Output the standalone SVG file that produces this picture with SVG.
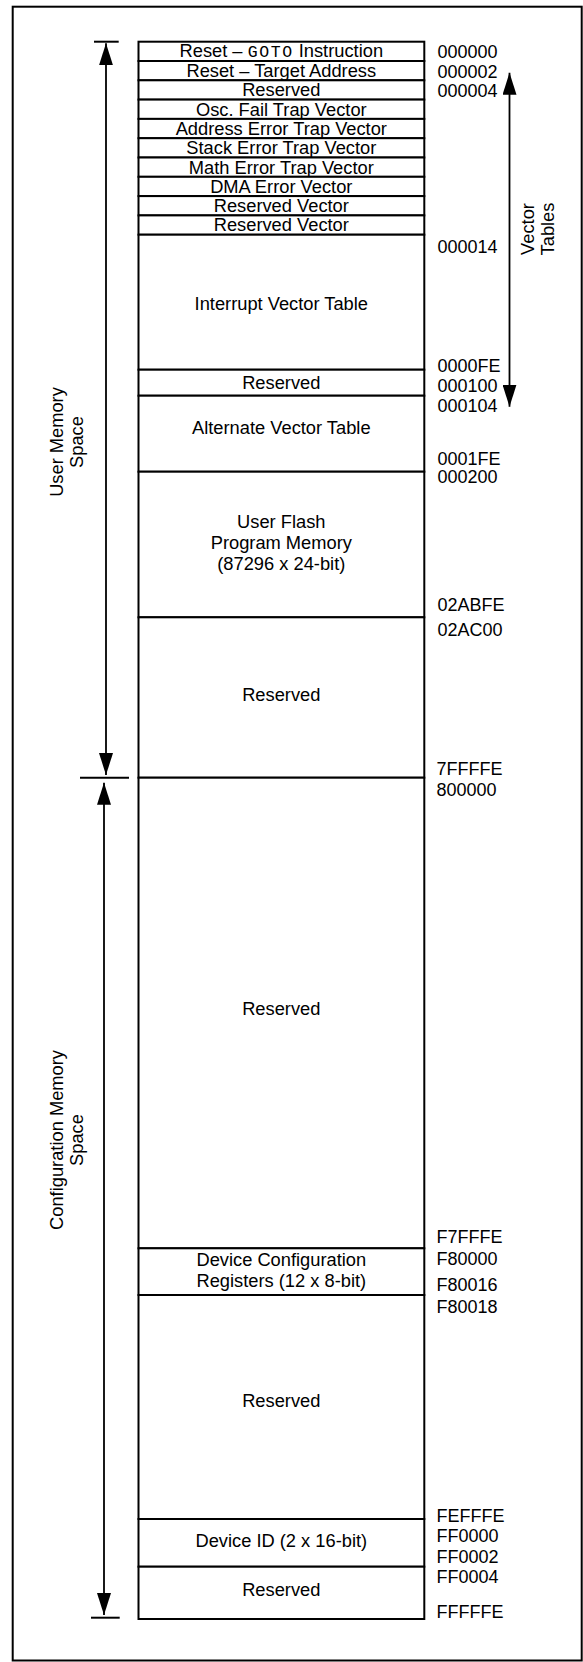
<svg xmlns="http://www.w3.org/2000/svg" width="583" height="1662" viewBox="0 0 583 1662">
<style>
text{font-family:"Liberation Sans",Arial,Helvetica,sans-serif;font-size:18px;fill:#000}
.c{text-anchor:middle;font-size:18.3px}
.a{text-anchor:start}
.box{fill:#fff;stroke:#000;stroke-width:2}
.ln{stroke:#000;stroke-width:2;fill:none}
.arr{stroke:#000;stroke-width:1.8;fill:none;marker-start:url(#ah);marker-end:url(#ah)}
.mono{font-family:"Liberation Mono","Courier New",monospace;font-size:16.5px;letter-spacing:1.6px}
</style>
<defs>
<marker id="ah" markerUnits="userSpaceOnUse" markerWidth="22" markerHeight="14" refX="22" refY="7" orient="auto-start-reverse" viewBox="0 0 22 14">
<path d="M0,0 L22,7 L0,14 z" fill="#000"/>
</marker>
</defs>
<rect x="0" y="0" width="583" height="1662" fill="#fff"/>
<rect id="frame" x="12.7" y="6.7" width="569" height="1653.8" fill="none" stroke="#000" stroke-width="2"/>

<g id="memory-map">
<g id="r1"><rect class="box" x="138.5" y="41.7" width="285.8" height="19.3"/><text class="c" x="281.3" y="57">Reset – <tspan class="mono">GOTO</tspan> Instruction</text></g>
<g id="r2"><rect class="box" x="138.5" y="61" width="285.8" height="19.3"/><text class="c" x="281.3" y="77">Reset – Target Address</text></g>
<g id="r3"><rect class="box" x="138.5" y="80.3" width="285.8" height="19.3"/><text class="c" x="281.3" y="96.3">Reserved</text></g>
<g id="r4"><rect class="box" x="138.5" y="99.6" width="285.8" height="19.3"/><text class="c" x="281.3" y="115.6">Osc. Fail Trap Vector</text></g>
<g id="r5"><rect class="box" x="138.5" y="118.9" width="285.8" height="19.3"/><text class="c" x="281.3" y="134.9">Address Error Trap Vector</text></g>
<g id="r6"><rect class="box" x="138.5" y="138.2" width="285.8" height="19.3"/><text class="c" x="281.3" y="154.2">Stack Error Trap Vector</text></g>
<g id="r7"><rect class="box" x="138.5" y="157.5" width="285.8" height="19.3"/><text class="c" x="281.3" y="173.5">Math Error Trap Vector</text></g>
<g id="r8"><rect class="box" x="138.5" y="176.8" width="285.8" height="19.3"/><text class="c" x="281.3" y="192.8">DMA Error Vector</text></g>
<g id="r9"><rect class="box" x="138.5" y="196.1" width="285.8" height="19.3"/><text class="c" x="281.3" y="212.1">Reserved Vector</text></g>
<g id="r10"><rect class="box" x="138.5" y="215.4" width="285.8" height="19.3"/><text class="c" x="281.3" y="231.4">Reserved Vector</text></g>
<g id="ivt"><rect class="box" x="138.5" y="234.7" width="285.8" height="135"/><text class="c" x="281.3" y="310">Interrupt Vector Table</text></g>
<g id="res1"><rect class="box" x="138.5" y="369.7" width="285.8" height="26"/><text class="c" x="281.3" y="388.5">Reserved</text></g>
<g id="avt"><rect class="box" x="138.5" y="395.7" width="285.8" height="76"/><text class="c" x="281.3" y="434.3">Alternate Vector Table</text></g>
<g id="flash"><rect class="box" x="138.5" y="471.7" width="285.8" height="145.6"/><text class="c" x="281.3" y="528.3">User Flash</text><text class="c" x="281.3" y="549.3">Program Memory</text><text class="c" x="281.3" y="570.3">(87296 x 24-bit)</text></g>
<g id="res2"><rect class="box" x="138.5" y="617.3" width="285.8" height="160.4"/><text class="c" x="281.3" y="700.7">Reserved</text></g>
<g id="res3"><rect class="box" x="138.5" y="777.7" width="285.8" height="470.6"/><text class="c" x="281.3" y="1015">Reserved</text></g>
<g id="devcfg"><rect class="box" x="138.5" y="1248.3" width="285.8" height="46.7"/><text class="c" x="281.3" y="1266">Device Configuration</text><text class="c" x="281.3" y="1286.7">Registers (12 x 8-bit)</text></g>
<g id="res4"><rect class="box" x="138.5" y="1295" width="285.8" height="224"/><text class="c" x="281.3" y="1406.7">Reserved</text></g>
<g id="devid"><rect class="box" x="138.5" y="1519" width="285.8" height="47.7"/><text class="c" x="281.3" y="1546.7">Device ID (2 x 16-bit)</text></g>
<g id="res5"><rect class="box" x="138.5" y="1566.7" width="285.8" height="52.3"/><text class="c" x="281.3" y="1595.7">Reserved</text></g>
</g>

<g id="addresses">
<text class="a" x="437.5" y="58.3">000000</text>
<text class="a" x="437.5" y="77.7">000002</text>
<text class="a" x="437.5" y="96.7">000004</text>
<text class="a" x="437.5" y="252.5">000014</text>
<text class="a" x="437.5" y="371.7">0000FE</text>
<text class="a" x="437.5" y="391.7">000100</text>
<text class="a" x="437.5" y="411.7">000104</text>
<text class="a" x="437.5" y="465">0001FE</text>
<text class="a" x="437.5" y="483.3">000200</text>
<text class="a" x="437.5" y="610.7">02ABFE</text>
<text class="a" x="437.5" y="635.7">02AC00</text>
<text class="a" x="436.5" y="774.7">7FFFFE</text>
<text class="a" x="436.5" y="796.3">800000</text>
<text class="a" x="436.5" y="1242.7">F7FFFE</text>
<text class="a" x="436.5" y="1265">F80000</text>
<text class="a" x="436.5" y="1290.7">F80016</text>
<text class="a" x="436.5" y="1313.3">F80018</text>
<text class="a" x="436.5" y="1521.7">FEFFFE</text>
<text class="a" x="436.5" y="1542.3">FF0000</text>
<text class="a" x="436.5" y="1562.7">FF0002</text>
<text class="a" x="436.5" y="1583.3">FF0004</text>
<text class="a" x="436.5" y="1618.3">FFFFFE</text>
</g>

<g id="connectors">
<line class="ln" x1="94" y1="41.7" x2="118.7" y2="41.7"/>
<line class="ln" x1="80" y1="777.7" x2="129" y2="777.7"/>
<line class="ln" x1="91" y1="1617.7" x2="119.7" y2="1617.7"/>
<line class="arr" x1="106" y1="43.3" x2="106" y2="775"/>
<line class="arr" x1="104" y1="782.7" x2="104" y2="1615"/>
<line class="arr" x1="509.5" y1="72.7" x2="509.5" y2="406.7"/>
</g>

<g id="labels">
<g id="user-label" transform="translate(63,442) rotate(-90)"><text class="c" x="0" y="0">User Memory</text><text class="c" x="0" y="20">Space</text></g>
<g id="config-label" transform="translate(63,1140) rotate(-90)"><text class="c" x="0" y="0">Configuration Memory</text><text class="c" x="0" y="20">Space</text></g>
<g id="vt-label" transform="translate(534,229) rotate(-90)"><text class="c" x="0" y="0">Vector</text><text class="c" x="0" y="20">Tables</text></g>
</g>
</svg>
